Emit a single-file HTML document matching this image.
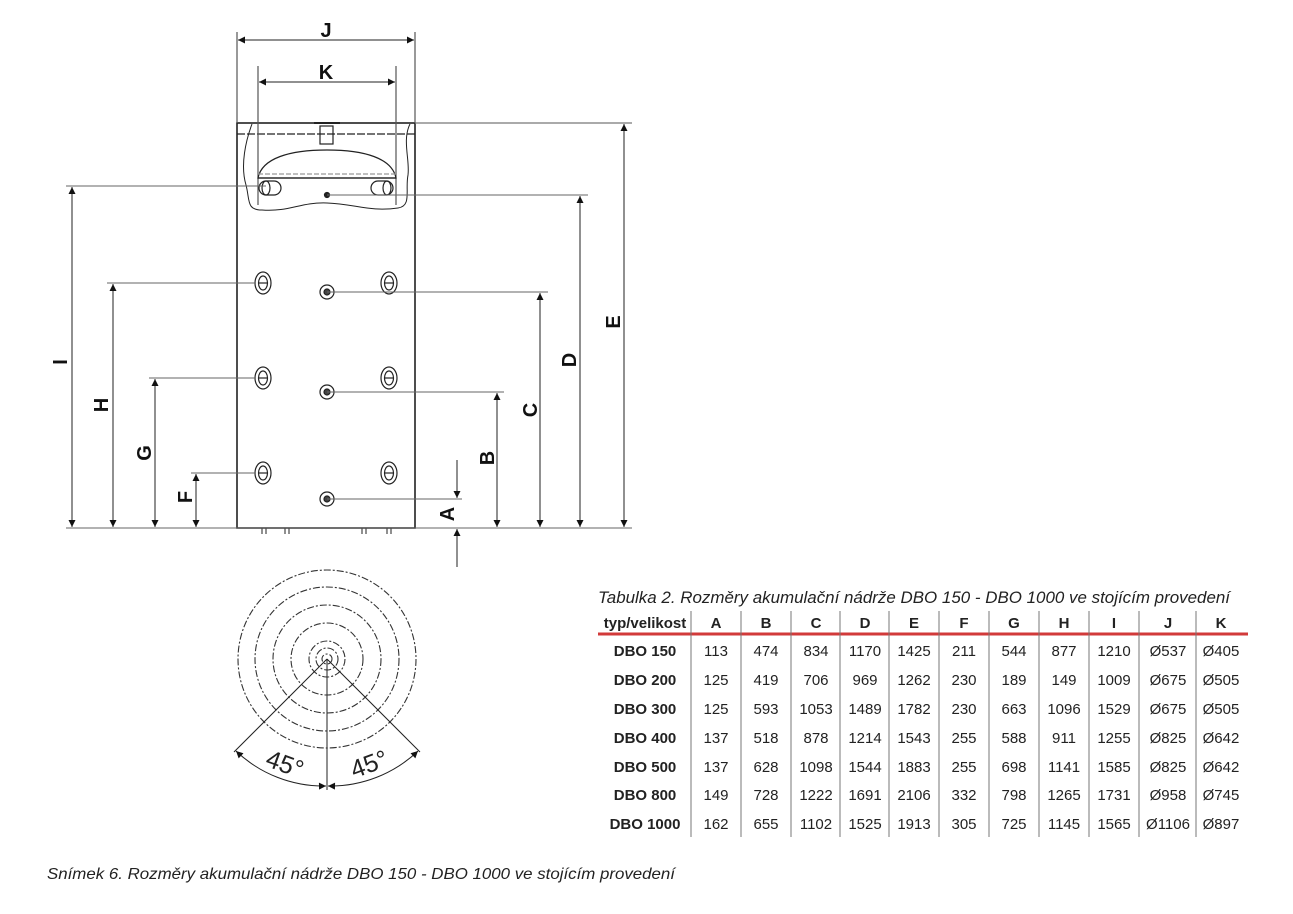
<!DOCTYPE html>
<html><head><meta charset="utf-8"><style>
html,body{margin:0;padding:0;background:#fff;}
svg{display:block}
.t{font-family:"Liberation Sans Narrow","Liberation Sans",Arial,sans-serif;}
</style></head><body>
<svg width="1293" height="914" viewBox="0 0 1293 914" xmlns="http://www.w3.org/2000/svg">
<defs>
<marker id="ar" viewBox="0 0 10 10" refX="10" refY="5" markerWidth="14" markerHeight="7" markerUnits="userSpaceOnUse" orient="auto-start-reverse">
<path d="M0,0 L10,5 L0,10 z" fill="#111"/></marker>
<marker id="a2" viewBox="0 0 10 10" refX="10" refY="5" markerWidth="14" markerHeight="7" markerUnits="userSpaceOnUse" orient="auto-start-reverse">
<path d="M0,0 L10,5 L0,10 z" fill="#111"/></marker>
</defs>
<g stroke="#222" fill="none" stroke-width="1.2">
<rect x="237" y="123" width="178" height="405" stroke-width="1.6"/>
<line x1="237" y1="134" x2="415" y2="134" stroke-dasharray="8 2"/>
<line x1="237" y1="32" x2="237" y2="123" stroke="#555"/>
<line x1="415" y1="32" x2="415" y2="123" stroke="#555"/>
<line x1="258" y1="66" x2="258" y2="205" stroke="#555"/>
<line x1="396" y1="66" x2="396" y2="205" stroke="#555"/>
<line x1="415" y1="123" x2="632" y2="123" stroke="#777"/>
<rect x="320" y="126" width="13" height="18"/>
<line x1="314" y1="123" x2="340" y2="123" stroke-width="2"/>
<path d="M258,178 C262,158 290,150 327,150 C364,150 392,158 396,178 Z"/>
<line x1="258" y1="178" x2="396" y2="178"/>
<line x1="258" y1="174" x2="396" y2="174" stroke="#999" stroke-dasharray="5 2"/>
<path d="M252,124 C246,140 240,165 246,185 C250,200 246,210 262,210 C290,212 300,202 327,203 C355,204 370,212 398,208 C412,206 405,190 408,175 C410,160 402,140 410,124" stroke-width="1"/>
<rect x="259" y="181" width="22" height="14" rx="7"/>
<ellipse cx="266" cy="188" rx="4" ry="7"/>
<rect x="371" y="181" width="22" height="14" rx="7"/>
<ellipse cx="387" cy="188" rx="4" ry="7"/>
<circle cx="327" cy="195" r="2.5" fill="#222"/>
<g>
<ellipse cx="263" cy="283" rx="8" ry="11"/><ellipse cx="263" cy="283" rx="4.5" ry="7"/><line x1="259" y1="283" x2="267" y2="283"/>
<ellipse cx="389" cy="283" rx="8" ry="11"/><ellipse cx="389" cy="283" rx="4.5" ry="7"/><line x1="385" y1="283" x2="393" y2="283"/>
<ellipse cx="263" cy="378" rx="8" ry="11"/><ellipse cx="263" cy="378" rx="4.5" ry="7"/><line x1="259" y1="378" x2="267" y2="378"/>
<ellipse cx="389" cy="378" rx="8" ry="11"/><ellipse cx="389" cy="378" rx="4.5" ry="7"/><line x1="385" y1="378" x2="393" y2="378"/>
<ellipse cx="263" cy="473" rx="8" ry="11"/><ellipse cx="263" cy="473" rx="4.5" ry="7"/><line x1="259" y1="473" x2="267" y2="473"/>
<ellipse cx="389" cy="473" rx="8" ry="11"/><ellipse cx="389" cy="473" rx="4.5" ry="7"/><line x1="385" y1="473" x2="393" y2="473"/>
<circle cx="327" cy="292" r="7"/><circle cx="327" cy="292" r="3" fill="#444"/>
<circle cx="327" cy="392" r="7"/><circle cx="327" cy="392" r="3" fill="#444"/>
<circle cx="327" cy="499" r="7"/><circle cx="327" cy="499" r="3" fill="#444"/>
</g>
<g stroke-width="1">
<path d="M262,528 v6 M266,528 v6 M285,528 v6 M289,528 v6 M362,528 v6 M366,528 v6 M387,528 v6 M391,528 v6"/>
</g>
<g stroke="#666" stroke-width="1">
<line x1="66" y1="186" x2="266" y2="186"/>
<line x1="327" y1="195" x2="588" y2="195"/>
<line x1="107" y1="283" x2="255" y2="283"/>
<line x1="327" y1="292" x2="548" y2="292"/>
<line x1="149" y1="378" x2="255" y2="378"/>
<line x1="327" y1="392" x2="504" y2="392"/>
<line x1="191" y1="473" x2="255" y2="473"/>
<line x1="327" y1="499" x2="462" y2="499"/>
<line x1="66" y1="528" x2="632" y2="528"/>
</g>
<g stroke="#222" stroke-width="1">
<line x1="238" y1="40" x2="414" y2="40" marker-start="url(#a2)" marker-end="url(#a2)"/>
<line x1="259" y1="82" x2="395" y2="82" marker-start="url(#a2)" marker-end="url(#a2)"/>
<line x1="72" y1="187" x2="72" y2="527" marker-start="url(#ar)" marker-end="url(#ar)"/>
<line x1="113" y1="284" x2="113" y2="527" marker-start="url(#ar)" marker-end="url(#ar)"/>
<line x1="155" y1="379" x2="155" y2="527" marker-start="url(#ar)" marker-end="url(#ar)"/>
<line x1="196" y1="474" x2="196" y2="527" marker-start="url(#ar)" marker-end="url(#ar)"/>
<line x1="497" y1="393" x2="497" y2="527" marker-start="url(#ar)" marker-end="url(#ar)"/>
<line x1="540" y1="293" x2="540" y2="527" marker-start="url(#ar)" marker-end="url(#ar)"/>
<line x1="580" y1="196" x2="580" y2="527" marker-start="url(#ar)" marker-end="url(#ar)"/>
<line x1="624" y1="124" x2="624" y2="527" marker-start="url(#ar)" marker-end="url(#ar)"/>
<line x1="457" y1="460" x2="457" y2="498" marker-end="url(#ar)"/>
<line x1="457" y1="567" x2="457" y2="529" marker-end="url(#ar)"/>
</g>
<g stroke="#333" stroke-width="1.1" stroke-dasharray="7 2 2 2">
<circle cx="327" cy="659" r="89"/>
<circle cx="327" cy="659" r="72"/>
<circle cx="327" cy="659" r="54"/>
<circle cx="327" cy="659" r="36"/>
<circle cx="327" cy="659" r="18"/>
<circle cx="327" cy="659" r="11"/>
<circle cx="327" cy="659" r="5"/>
</g>
<g stroke="#222" stroke-width="1">
<line x1="327" y1="659" x2="327" y2="790"/>
<line x1="327" y1="659" x2="234" y2="752"/>
<line x1="327" y1="659" x2="420" y2="752"/>
<path d="M236,751 A127,127 0 0 0 326,786" marker-start="url(#a2)" marker-end="url(#a2)"/>
<path d="M328,786 A127,127 0 0 0 418,751" marker-start="url(#a2)" marker-end="url(#a2)"/>
</g>
</g>
<g font-family="Liberation Sans,Arial,sans-serif" font-weight="bold" font-size="20" fill="#111" text-anchor="middle">
<text x="326" y="37">J</text>
<text x="326" y="79">K</text>
<text transform="translate(67,362) rotate(-90)">I</text>
<text transform="translate(108,405) rotate(-90)">H</text>
<text transform="translate(151,453) rotate(-90)">G</text>
<text transform="translate(192,497) rotate(-90)">F</text>
<text transform="translate(454,514) rotate(-90)">A</text>
<text transform="translate(494,458) rotate(-90)">B</text>
<text transform="translate(537,410) rotate(-90)">C</text>
<text transform="translate(576,360) rotate(-90)">D</text>
<text transform="translate(620,322) rotate(-90)">E</text>
</g>
<g font-family="Liberation Sans,Arial,sans-serif" font-size="25" fill="#222" text-anchor="middle">
<text transform="translate(282,772) rotate(20)">45°</text>
<text transform="translate(372,772) rotate(-20)">45°</text>
</g>
<g class="t" fill="#222">
<text x="598" y="603" font-size="17" font-style="italic" textLength="632" lengthAdjust="spacingAndGlyphs">Tabulka 2. Rozměry akumulační nádrže DBO 150 - DBO 1000 ve stojícím provedení</text>
</g>
<line x1="598" y1="634" x2="1248" y2="634" stroke="#d23a3a" stroke-width="3"/>
<g stroke="#777" stroke-width="1">
<path d="M691,611v226 M741,611v226 M791,611v226 M840,611v226 M889,611v226 M939,611v226 M989,611v226 M1039,611v226 M1089,611v226 M1139,611v226 M1196,611v226"/>
</g>
<g class="t" font-size="15" fill="#222" text-anchor="middle">
<g font-weight="bold">
<text x="645" y="628">typ/velikost</text>
<text x="716" y="628">A</text><text x="766" y="628">B</text><text x="816" y="628">C</text><text x="865" y="628">D</text><text x="914" y="628">E</text><text x="964" y="628">F</text><text x="1014" y="628">G</text><text x="1064" y="628">H</text><text x="1114" y="628">I</text><text x="1168" y="628">J</text><text x="1221" y="628">K</text>
<text x="645" y="656">DBO 150</text><text x="645" y="685">DBO 200</text><text x="645" y="714">DBO 300</text><text x="645" y="743">DBO 400</text><text x="645" y="772">DBO 500</text><text x="645" y="800">DBO 800</text><text x="645" y="829">DBO 1000</text>
</g>
<g>
<text y="656"><tspan x="716">113</tspan><tspan x="766">474</tspan><tspan x="816">834</tspan><tspan x="865">1170</tspan><tspan x="914">1425</tspan><tspan x="964">211</tspan><tspan x="1014">544</tspan><tspan x="1064">877</tspan><tspan x="1114">1210</tspan><tspan x="1168">Ø537</tspan><tspan x="1221">Ø405</tspan></text>
<text y="685"><tspan x="716">125</tspan><tspan x="766">419</tspan><tspan x="816">706</tspan><tspan x="865">969</tspan><tspan x="914">1262</tspan><tspan x="964">230</tspan><tspan x="1014">189</tspan><tspan x="1064">149</tspan><tspan x="1114">1009</tspan><tspan x="1168">Ø675</tspan><tspan x="1221">Ø505</tspan></text>
<text y="714"><tspan x="716">125</tspan><tspan x="766">593</tspan><tspan x="816">1053</tspan><tspan x="865">1489</tspan><tspan x="914">1782</tspan><tspan x="964">230</tspan><tspan x="1014">663</tspan><tspan x="1064">1096</tspan><tspan x="1114">1529</tspan><tspan x="1168">Ø675</tspan><tspan x="1221">Ø505</tspan></text>
<text y="743"><tspan x="716">137</tspan><tspan x="766">518</tspan><tspan x="816">878</tspan><tspan x="865">1214</tspan><tspan x="914">1543</tspan><tspan x="964">255</tspan><tspan x="1014">588</tspan><tspan x="1064">911</tspan><tspan x="1114">1255</tspan><tspan x="1168">Ø825</tspan><tspan x="1221">Ø642</tspan></text>
<text y="772"><tspan x="716">137</tspan><tspan x="766">628</tspan><tspan x="816">1098</tspan><tspan x="865">1544</tspan><tspan x="914">1883</tspan><tspan x="964">255</tspan><tspan x="1014">698</tspan><tspan x="1064">1141</tspan><tspan x="1114">1585</tspan><tspan x="1168">Ø825</tspan><tspan x="1221">Ø642</tspan></text>
<text y="800"><tspan x="716">149</tspan><tspan x="766">728</tspan><tspan x="816">1222</tspan><tspan x="865">1691</tspan><tspan x="914">2106</tspan><tspan x="964">332</tspan><tspan x="1014">798</tspan><tspan x="1064">1265</tspan><tspan x="1114">1731</tspan><tspan x="1168">Ø958</tspan><tspan x="1221">Ø745</tspan></text>
<text y="829"><tspan x="716">162</tspan><tspan x="766">655</tspan><tspan x="816">1102</tspan><tspan x="865">1525</tspan><tspan x="914">1913</tspan><tspan x="964">305</tspan><tspan x="1014">725</tspan><tspan x="1064">1145</tspan><tspan x="1114">1565</tspan><tspan x="1168">Ø1106</tspan><tspan x="1221">Ø897</tspan></text>
</g>
</g>
<text x="47" y="879" class="t" font-size="16" font-style="italic" fill="#222" textLength="628" lengthAdjust="spacingAndGlyphs">Snímek 6. Rozměry akumulační nádrže DBO 150 - DBO 1000 ve stojícím provedení</text>
</svg>
</body></html>
